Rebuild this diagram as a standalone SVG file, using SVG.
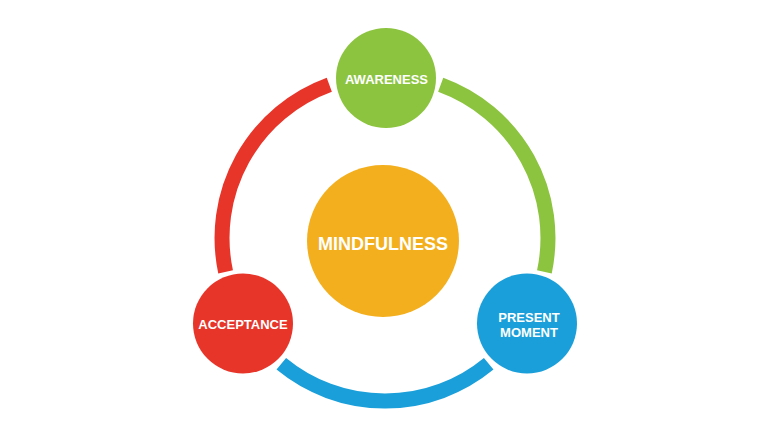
<svg xmlns="http://www.w3.org/2000/svg" width="770" height="437" viewBox="0 0 770 437">
<style>
.arc{fill:none;stroke-width:15;stroke-linecap:butt}
.lbl{font-family:"Liberation Sans",Arial,sans-serif;font-weight:bold;fill:#ffffff;text-anchor:middle;font-size:13px}
.big{font-size:18px}
</style>
<rect width="770" height="437" fill="#ffffff"/>
<g id="connectors">
<path class="arc" stroke="#e8352a" d="M225.6,271.9 A163,163 0 0 1 329.3,84.8"/>
<path class="arc" stroke="#8cc43f" d="M440.7,84.8 A163,163 0 0 1 544.4,271.9"/>
<path class="arc" stroke="#1a9fda" d="M488.7,363.8 A163,163 0 0 1 281.3,363.8"/>
</g>
<g id="mindfulness">
<circle cx="383" cy="241" r="76" fill="#f3af1d"/>
<text class="lbl big" x="383" y="250">MINDFULNESS</text>
</g>
<g id="awareness">
<circle cx="386" cy="78" r="50" fill="#8cc43f"/>
<text class="lbl" x="386.5" y="83.5">AWARENESS</text>
</g>
<g id="acceptance">
<circle cx="243" cy="323.5" r="50" fill="#e8352a"/>
<text class="lbl" x="243" y="329">ACCEPTANCE</text>
</g>
<g id="present-moment">
<circle cx="527" cy="323.5" r="50" fill="#1a9fda"/>
<text class="lbl" x="529" y="322.3">PRESENT</text>
<text class="lbl" x="529" y="337.3">MOMENT</text>
</g>
</svg>
